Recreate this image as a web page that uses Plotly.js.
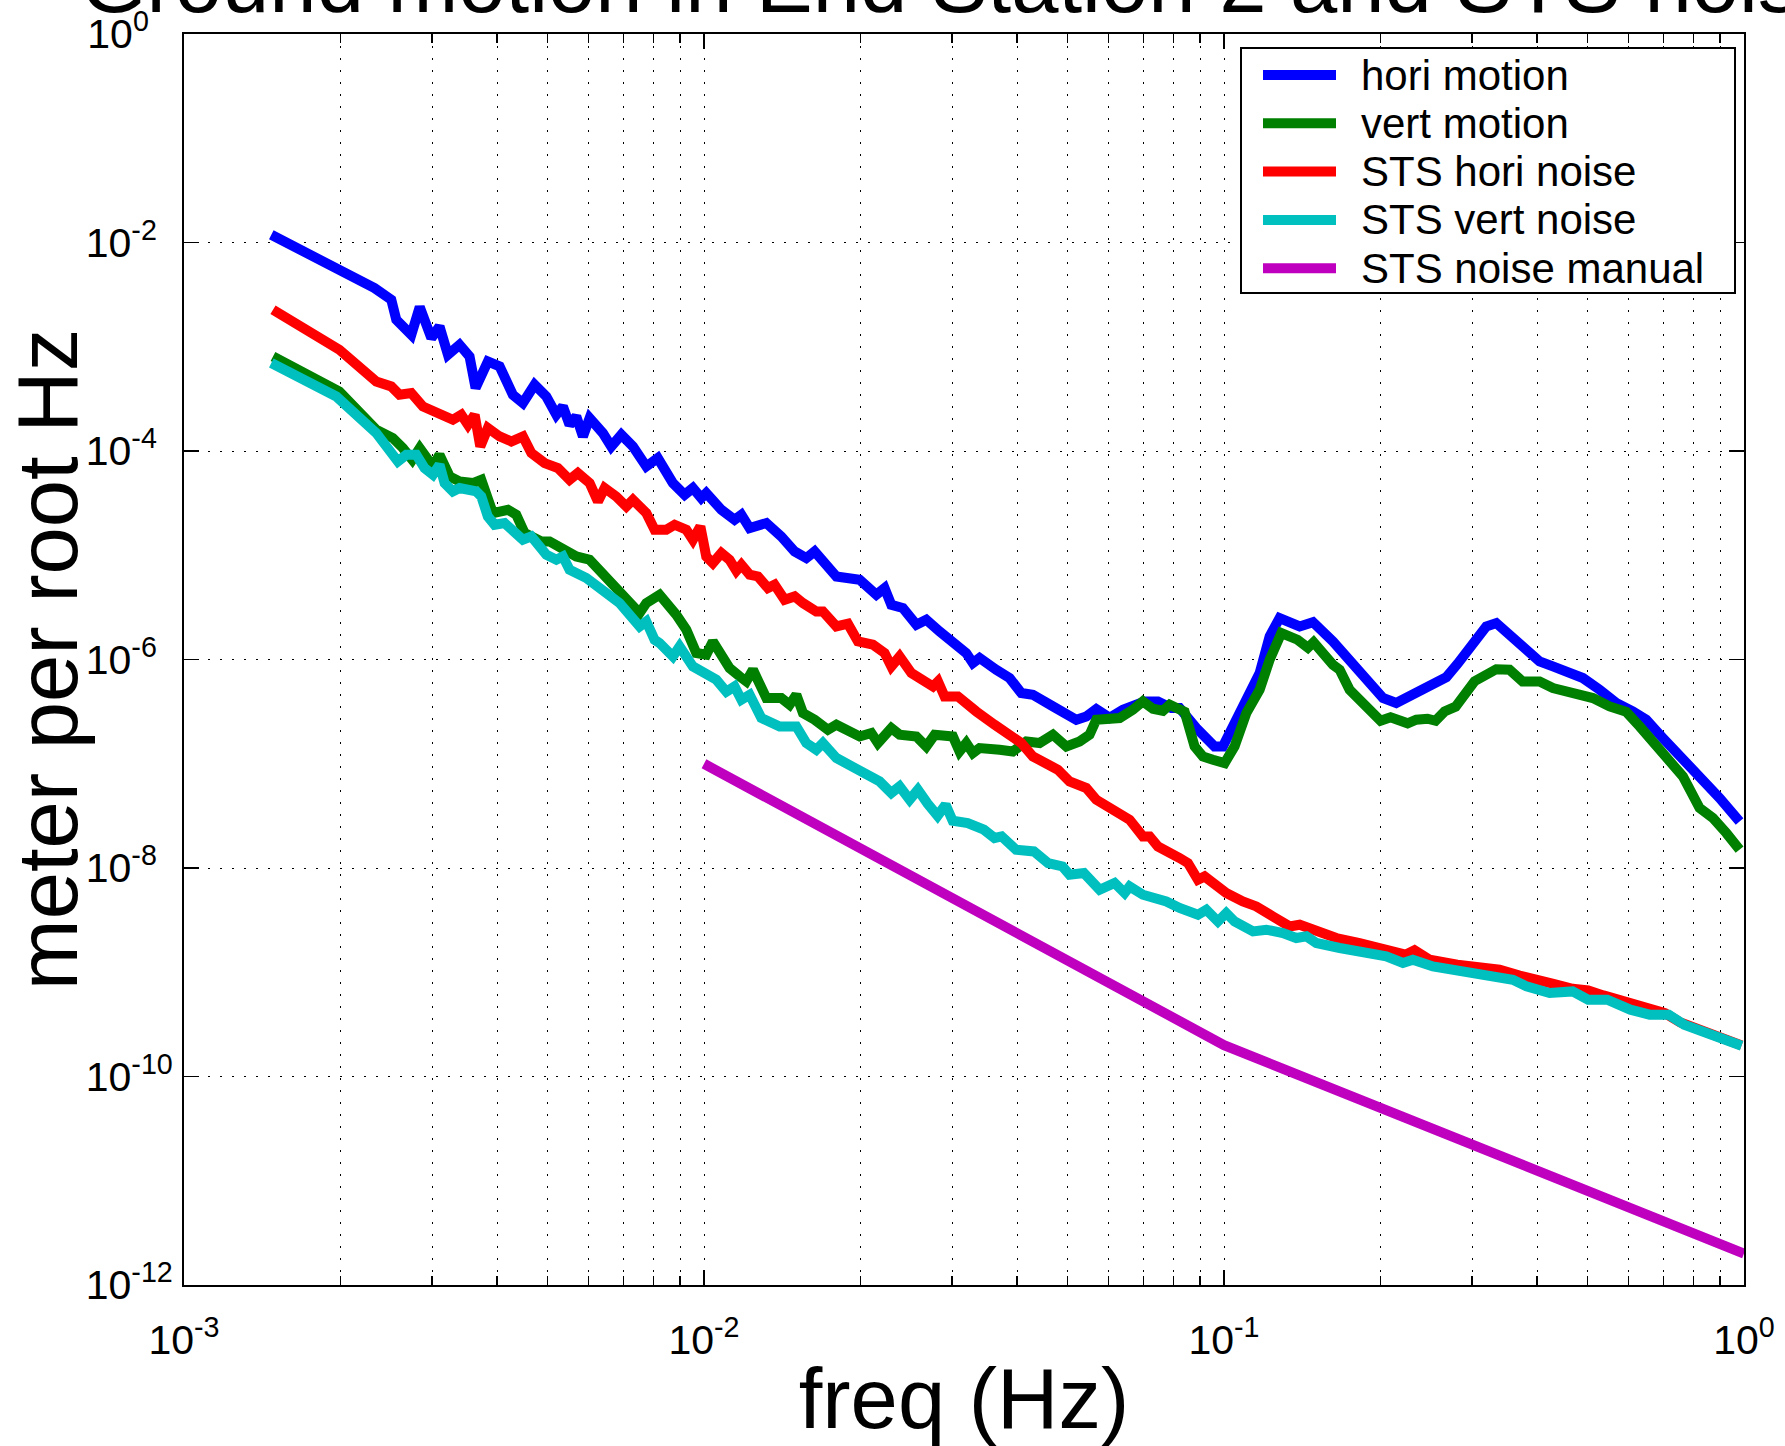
<!DOCTYPE html>
<html>
<head>
<meta charset="utf-8">
<script src="https://cdn.plot.ly/plotly-3.0.1.min.js"></script>
<style>
html,body{margin:0;padding:0;background:#ffffff;}
#chart{width:1785px;height:1446px;}
</style>
</head>
<body>
<div id="chart"></div>
<script>
// ---------- DATA ----------
const horiMotionFreq = [1.472e-3,1.99e-3,2.325e-3,2.504e-3,2.56e-3,2.736e-3,2.84e-3,2.99e-3,3.10e-3,3.218e-3,3.388e-3,3.541e-3,3.637e-3,3.84e-3,4.045e-3,4.29e-3,4.485e-3,4.723e-3,4.975e-3,5.2e-3,5.354e-3,5.514e-3,5.68e-3,5.85e-3,6.026e-3,6.39e-3,6.632e-3,6.934e-3,7.3e-3,7.745e-3,8.15e-3,8.713e-3,9.178e-3,9.52e-3,9.88e-3,1.01e-2,1.08e-2,1.145e-2,1.18e-2,1.224e-2,1.318e-2,1.408e-2,1.494e-2,1.573e-2,1.632e-2,1.797e-2,1.992e-2,2.145e-2,2.225e-2,2.292e-2,2.413e-2,2.561e-2,2.676e-2,2.838e-2,3.011e-2,3.194e-2,3.289e-2,3.388e-2,3.648e-2,3.87e-2,4.076e-2,4.29e-2,4.688e-2,5.2e-2,5.435e-2,5.68e-2,6.026e-2,6.39e-2,7.035e-2,7.463e-2,7.92e-2,8.215e-2,8.845e-2,9.247e-2,9.59e-2,9.95e-2,1.056e-1,1.12e-1,1.171e-1,1.224e-1,1.279e-1,1.398e-1,1.483e-1,1.62e-1,1.719e-1,1.797e-1,1.934e-1,2.022e-1,2.144e-1,2.275e-1,2.449e-1,2.676e-1,2.814e-1,3.011e-1,3.194e-1,3.339e-1,3.541e-1,3.702e-1,4.045e-1,4.29e-1,4.62e-1,4.9e-1,5.276e-1,5.68e-1,6.11e-1,6.486e-1,6.982e-1,7.52e-1,8.214e-1,8.976e-1,9.806e-1];
const horiMotionVal = [1.186e-2,5.475e-3,3.656e-3,2.825e-3,1.815e-3,1.303e-3,2.404e-3,1.211e-3,1.565e-3,8.375e-4,1.045e-3,8.07e-4,4.018e-4,7.23e-4,6.47e-4,3.462e-4,2.884e-4,4.318e-4,3.334e-4,2.227e-4,2.675e-4,1.785e-4,2.145e-4,1.379e-4,2.07e-4,1.486e-4,1.105e-4,1.432e-4,1.105e-4,7.11e-5,8.556e-5,4.926e-5,3.805e-5,4.41e-5,3.537e-5,3.95e-5,2.732e-5,2.19e-5,2.446e-5,1.824e-5,2.037e-5,1.515e-5,1.087e-5,9.4e-6,1.087e-5,6.26e-6,5.82e-6,4.18e-6,4.846e-6,3.351e-6,3.115e-6,2.155e-6,2.407e-6,1.858e-6,1.438e-6,1.153e-6,9.25e-7,1.033e-6,7.976e-7,6.637e-7,4.767e-7,4.592e-7,3.546e-7,2.644e-7,2.844e-7,3.348e-7,2.763e-7,3.296e-7,3.96e-7,3.96e-7,3.422e-7,3.42e-7,2.2e-7,1.828e-7,1.466e-7,1.466e-7,2.644e-7,4.592e-7,7.418e-7,1.664e-6,2.498e-6,2.076e-6,2.278e-6,1.49e-6,1.07e-6,7.976e-7,5.514e-7,4.27e-7,3.823e-7,4.42e-7,5.324e-7,6.76e-7,9.106e-7,1.438e-6,2.076e-6,2.237e-6,1.728e-6,1.513e-6,9.58e-7,8.578e-7,7.418e-7,6.64e-7,5.129e-7,3.823e-7,3.176e-7,2.644e-7,1.765e-7,1.22e-7,7.29e-8,4.69e-8,2.797e-8];

const vertMotionFreq = [1.483e-3,1.99e-3,2.343e-3,2.521e-3,2.636e-3,2.748e-3,2.84e-3,3.011e-3,3.10e-3,3.243e-3,3.388e-3,3.594e-3,3.73e-3,3.926e-3,4.197e-3,4.355e-3,4.519e-3,4.866e-3,5.047e-3,5.354e-3,5.68e-3,6.026e-3,6.487e-3,6.88e-3,7.52e-3,7.745e-3,8.215e-3,8.845e-3,9.247e-3,9.665e-3,1.01e-2,1.04e-2,1.086e-2,1.12e-2,1.171e-2,1.206e-2,1.242e-2,1.318e-2,1.408e-2,1.461e-2,1.505e-2,1.55e-2,1.632e-2,1.731e-2,1.797e-2,1.878e-2,1.992e-2,2.098e-2,2.16e-2,2.292e-2,2.378e-2,2.561e-2,2.676e-2,2.777e-2,3.011e-2,3.10e-2,3.194e-2,3.289e-2,3.388e-2,3.702e-2,3.926e-2,4.167e-2,4.42e-2,4.688e-2,4.975e-2,5.276e-2,5.514e-2,5.68e-2,5.937e-2,6.3e-2,6.68e-2,6.982e-2,7.3e-2,7.63e-2,7.862e-2,8.4e-2,8.779e-2,9.107e-2,9.52e-2,1.003e-1,1.048e-1,1.104e-1,1.171e-1,1.224e-1,1.289e-1,1.385e-1,1.45e-1,1.487e-1,1.62e-1,1.669e-1,1.744e-1,1.878e-1,2.0e-1,2.091e-1,2.255e-1,2.343e-1,2.463e-1,2.552e-1,2.656e-1,2.789e-1,3.033e-1,3.339e-1,3.541e-1,3.751e-1,4.045e-1,4.29e-1,4.553e-1,4.83e-1,5.122e-1,5.514e-1,5.937e-1,6.3e-1,6.88e-1,7.63e-1,8.214e-1,8.713e-1,9.247e-1,9.806e-1];
const vertMotionVal = [8.07e-4,3.724e-4,1.598e-4,1.331e-4,1.067e-4,8.24e-5,1.067e-4,7.11e-5,9.2e-5,5.698e-5,5.103e-5,4.926e-5,5.299e-5,2.54e-5,2.732e-5,2.446e-5,1.633e-5,1.356e-5,1.356e-5,1.129e-5,9.74e-6,9.05e-6,6.26e-6,4.668e-6,2.79e-6,3.479e-6,4.18e-6,2.688e-6,1.929e-6,1.153e-6,1.111e-6,1.49e-6,1.087e-6,8.28e-7,6.88e-7,6.16e-7,7.976e-7,4.27e-7,4.27e-7,3.683e-7,4.592e-7,3.065e-7,2.644e-7,2.12e-7,2.367e-7,2.12e-7,1.828e-7,1.971e-7,1.58e-7,2.2e-7,1.898e-7,1.828e-7,1.466e-7,1.898e-7,1.828e-7,1.313e-7,1.58e-7,1.267e-7,1.415e-7,1.362e-7,1.313e-7,1.637e-7,1.58e-7,1.898e-7,1.466e-7,1.637e-7,1.898e-7,2.644e-7,2.644e-7,2.745e-7,3.296e-7,3.96e-7,3.37e-7,3.225e-7,3.683e-7,3.15e-7,1.466e-7,1.175e-7,1.093e-7,1.016e-7,1.466e-7,3.065e-7,5.129e-7,9.95e-7,1.794e-6,1.547e-6,1.297e-6,1.464e-6,8.906e-7,7.976e-7,5.129e-7,3.683e-7,2.586e-7,2.794e-7,2.443e-7,2.644e-7,2.703e-7,2.586e-7,3.176e-7,3.524e-7,6.188e-7,8.064e-7,7.976e-7,6.16e-7,6.16e-7,5.324e-7,4.938e-7,4.592e-7,4.27e-7,3.546e-7,3.15e-7,2.28e-7,1.362e-7,7.556e-8,3.761e-8,3.016e-8,2.165e-8,1.497e-8];

const stsHoriNoiseFreq = [1.483e-3,1.99e-3,2.343e-3,2.504e-3,2.597e-3,2.736e-3,2.88e-3,3.10e-3,3.289e-3,3.414e-3,3.516e-3,3.622e-3,3.713e-3,3.84e-3,4.045e-3,4.26e-3,4.485e-3,4.655e-3,4.937e-3,5.236e-3,5.514e-3,5.72e-3,6.026e-3,6.252e-3,6.44e-3,6.78e-3,7.09e-3,7.3e-3,7.745e-3,8.035e-3,8.46e-3,8.78e-3,9.247e-3,9.52e-3,9.84e-3,1.01e-2,1.04e-2,1.08e-2,1.12e-2,1.154e-2,1.18e-2,1.224e-2,1.27e-2,1.327e-2,1.367e-2,1.429e-2,1.494e-2,1.55e-2,1.644e-2,1.693e-2,1.797e-2,1.891e-2,1.977e-2,2.113e-2,2.225e-2,2.292e-2,2.378e-2,2.505e-2,2.618e-2,2.756e-2,2.818e-2,2.902e-2,3.078e-2,3.194e-2,3.339e-2,3.62e-2,3.899e-2,4.076e-2,4.29e-2,4.485e-2,4.793e-2,5.047e-2,5.435e-2,5.68e-2,6.026e-2,6.3e-2,6.584e-2,6.982e-2,7.194e-2,7.463e-2,7.862e-2,8.215e-2,8.524e-2,8.909e-2,9.176e-2,9.59e-2,1.01e-1,1.087e-1,1.154e-1,1.242e-1,1.337e-1,1.398e-1,1.505e-1,1.644e-1,1.823e-1,1.934e-1,2.112e-1,2.233e-1,2.325e-1,2.486e-1,2.81e-1,3.165e-1,3.388e-1,3.702e-1,4.045e-1,4.3e-1,4.682e-1,5.015e-1,5.365e-1,5.648e-1,6.148e-1,6.584e-1,7.048e-1,7.546e-1,8.355e-1,9.095e-1,9.894e-1];
const stsHoriNoiseVal = [2.263e-3,9.35e-4,4.645e-4,4.16e-4,3.462e-4,3.595e-4,2.675e-4,2.311e-4,1.994e-4,2.227e-4,1.785e-4,2.227e-4,1.105e-4,1.66e-4,1.379e-4,1.234e-4,1.379e-4,9.56e-5,7.66e-5,6.86e-5,5.299e-5,6.14e-5,4.926e-5,3.28e-5,4.41e-5,3.664e-5,2.938e-5,3.406e-5,2.54e-5,1.757e-5,1.757e-5,1.962e-5,1.757e-5,1.408e-5,1.89e-5,9.74e-6,8.42e-6,1.05e-5,9.05e-6,7.1e-6,8.11e-6,6.5e-6,6.26e-6,4.846e-6,5.214e-6,3.743e-6,4.026e-6,3.479e-6,2.89e-6,2.89e-6,2.076e-6,2.203e-6,1.49e-6,1.386e-6,1.153e-6,8.578e-7,1.07e-6,7.418e-7,6.64e-7,5.514e-7,6.16e-7,4.42e-7,4.42e-7,3.683e-7,3.176e-7,2.367e-7,1.898e-7,1.58e-7,1.175e-7,1.052e-7,8.76e-8,6.77e-8,5.85e-8,4.52e-8,3.761e-8,3.243e-8,2.905e-8,2.009e-8,2.009e-8,1.61e-8,1.443e-8,1.247e-8,1.116e-8,7.72e-9,8.3e-9,6.91e-9,5.754e-9,4.78e-9,4.28e-9,3.432e-9,2.753e-9,2.858e-9,2.465e-9,2.13e-9,1.908e-9,1.769e-9,1.645e-9,1.473e-9,1.627e-9,1.319e-9,1.181e-9,1.123e-9,1.058e-9,9.3e-10,8.6e-10,7.75e-10,6.95e-10,6.7e-10,6.0e-10,5.58e-10,4.8e-10,4.3e-10,4.05e-10,3.3e-10,2.76e-10,2.4e-10,1.99e-10];

const stsVertNoiseFreq = [1.472e-3,1.963e-3,2.343e-3,2.578e-3,2.676e-3,2.797e-3,2.902e-3,3.011e-3,3.10e-3,3.171e-3,3.289e-3,3.388e-3,3.648e-3,3.73e-3,3.84e-3,3.956e-3,4.135e-3,4.29e-3,4.485e-3,4.655e-3,4.793e-3,4.975e-3,5.2e-3,5.354e-3,5.514e-3,5.94e-3,6.487e-3,6.88e-3,7.52e-3,7.745e-3,8.035e-3,8.215e-3,8.713e-3,8.976e-3,9.52e-3,1.01e-2,1.056e-2,1.104e-2,1.145e-2,1.18e-2,1.224e-2,1.289e-2,1.398e-2,1.505e-2,1.573e-2,1.644e-2,1.693e-2,1.797e-2,1.933e-2,2.176e-2,2.292e-2,2.378e-2,2.486e-2,2.578e-2,2.692e-2,2.813e-2,2.915e-2,3.007e-2,3.215e-2,3.454e-2,3.62e-2,3.736e-2,3.981e-2,4.31e-2,4.59e-2,4.891e-2,5.047e-2,5.378e-2,5.765e-2,6.16e-2,6.44e-2,6.584e-2,6.982e-2,7.745e-2,8.215e-2,8.909e-2,9.247e-2,9.734e-2,1.01e-1,1.048e-1,1.137e-1,1.206e-1,1.298e-1,1.377e-1,1.44e-1,1.505e-1,1.669e-1,1.878e-1,2.051e-1,2.208e-1,2.308e-1,2.522e-1,2.838e-1,3.194e-1,3.594e-1,3.816e-1,4.228e-1,4.682e-1,5.015e-1,5.458e-1,6.045e-1,6.584e-1,7.168e-1,7.674e-1,8.355e-1,9.095e-1,9.894e-1];
const stsVertNoiseVal = [6.975e-4,3.334e-4,1.486e-4,7.94e-5,9.2e-5,9.2e-5,6.86e-5,5.917e-5,7.38e-5,4.926e-5,4.093e-5,4.41e-5,4.093e-5,3.664e-5,2.356e-5,1.962e-5,2.037e-5,1.692e-5,1.408e-5,1.515e-5,1.214e-5,1.011e-5,9.05e-6,9.74e-6,7.26e-6,6.045e-6,4.34e-6,3.479e-6,2.076e-6,2.317e-6,1.547e-6,1.438e-6,1.07e-6,1.335e-6,8.578e-7,7.418e-7,6.395e-7,4.906e-7,5.514e-7,4.113e-7,4.592e-7,2.745e-7,2.28e-7,2.28e-7,1.58e-7,1.362e-7,1.58e-7,1.135e-7,9.43e-8,6.77e-8,5.238e-8,6.06e-8,4.52e-8,5.635e-8,4.136e-8,3.172e-8,4.046e-8,2.841e-8,2.701e-8,2.329e-8,1.94e-8,2.009e-8,1.497e-8,1.443e-8,1.116e-8,1.035e-8,8.62e-9,8.95e-9,6.19e-9,7.175e-9,5.754e-9,6.657e-9,5.54e-9,4.78e-9,4.132e-9,3.564e-9,3.98e-9,3.073e-9,3.7e-9,3.073e-9,2.465e-9,2.559e-9,2.379e-9,2.13e-9,2.211e-9,1.908e-9,1.708e-9,1.53e-9,1.419e-9,1.226e-9,1.319e-9,1.138e-9,1.019e-9,9.47e-10,8.482e-10,7.32e-10,6.323e-10,6.55e-10,5.452e-10,5.452e-10,4.372e-10,3.916e-10,3.916e-10,3.14e-10,2.709e-10,2.341e-10,1.974e-10];

const stsManualFreq = [1e-2, 1e-1, 1];
const stsManualVal  = [1e-7, 2e-10, 2e-12];

const seriesNames = ['hori motion','vert motion','STS hori noise','STS vert noise','STS noise manual'];
const seriesColors = ['#0000FF','#008000','#FF0000','#00BFBF','#BF00BF'];

const xTickVals = [1e-3, 1e-2, 1e-1, 1];
const xTickText = ['10<sup>-3</sup>','10<sup>-2</sup>','10<sup>-1</sup>','10<sup>0</sup>'];
const yTickVals = [1, 1e-2, 1e-4, 1e-6, 1e-8, 1e-10, 1e-12];
// trailing figure spaces keep the "10" of every label in the same column, as in the reference
const yTickText = ['10<sup>0\u2007\u2008</sup>','10<sup>-2\u2007</sup>','10<sup>-4\u2007</sup>','10<sup>-6\u2007</sup>','10<sup>-8\u2007</sup>','10<sup>-10</sup>','10<sup>-12</sup>'];

const titleText = 'Ground motion in End Station 2 and STS noise';
const xTitle = 'freq (Hz)';
const yTitle = 'meter per root Hz';

// ---------- FIGURE ----------
const W = 1785, H = 1446;
const M = {l:184, r:41, t:34, b:161};
const FONT = 'Liberation Sans, Arial, Helvetica, sans-serif';

const xs = [horiMotionFreq, vertMotionFreq, stsHoriNoiseFreq, stsVertNoiseFreq, stsManualFreq];
const ys = [horiMotionVal, vertMotionVal, stsHoriNoiseVal, stsVertNoiseVal, stsManualVal];
const LW = 10;

const traces = xs.map((x, i) => ({
  type: 'scatter', mode: 'lines', x: x, y: ys[i], name: seriesNames[i],
  line: {color: seriesColors[i], width: LW}, showlegend: false, hoverinfo: 'skip'
}));

// minor tick positions (2..9 in each decade)
const xMinor = [];
[1e-3, 1e-2, 1e-1].forEach(d => { for (let k = 2; k <= 9; k++) xMinor.push(k * d); });

// legend drawn with paper-referenced shapes/annotations (pixel layout)
const pw = W - M.l - M.r, ph = H - M.t - M.b;
const px2x = X => (X - M.l) / pw;
const px2y = Y => (H - M.b - Y) / ph;
const legBox = {x0: 1241, x1: 1735, y0: 48, y1: 293};
const legRow0 = 75, legRowStep = 48.3, legLineX0 = 1263, legLineX1 = 1336, legTextX = 1359;

const shapes = [{
  type: 'rect', xref: 'paper', yref: 'paper',
  x0: px2x(legBox.x0), x1: px2x(legBox.x1), y0: px2y(legBox.y1), y1: px2y(legBox.y0),
  line: {color: '#000', width: 2}, fillcolor: '#fff', layer: 'above'
}];
const annotations = [];
seriesNames.forEach((n, i) => {
  const yy = px2y(legRow0 + i * legRowStep);
  shapes.push({type: 'line', xref: 'paper', yref: 'paper',
    x0: px2x(legLineX0), x1: px2x(legLineX1), y0: yy, y1: yy,
    line: {color: seriesColors[i], width: LW}, layer: 'above'});
  annotations.push({xref: 'paper', yref: 'paper', x: px2x(legTextX), y: yy,
    xanchor: 'left', yanchor: 'middle', showarrow: false, text: n,
    font: {family: FONT, size: 42, color: '#000'}});
});

const gridDash = '2px,10px';
const layout = {
  width: W, height: H,
  margin: M,
  paper_bgcolor: '#fff', plot_bgcolor: '#fff',
  font: {family: FONT, color: '#000'},
  showlegend: false,
  title: {text: titleText, font: {family: FONT, size: 85, color: '#000'},
          xref: 'paper', x: 0.5, xanchor: 'center',
          yref: 'container', y: 1 - 12 / H, yanchor: 'bottom'},
  xaxis: {
    type: 'log', range: [-3, 0], autorange: false,
    tickmode: 'array', tickvals: xTickVals, ticktext: xTickText,
    tickfont: {family: FONT, size: 41, color: '#000'},
    ticks: 'inside', ticklen: 15, tickwidth: 1.5, tickcolor: '#000',
    ticklabelstandoff: 18,
    showline: true, linecolor: '#000', linewidth: 2, mirror: 'ticks',
    showgrid: true, gridcolor: '#000', gridwidth: 1, griddash: gridDash,
    zeroline: false,
    minor: {tickmode: 'array', tickvals: xMinor, ticks: 'inside', ticklen: 9,
            tickwidth: 1.5, tickcolor: '#000', showgrid: true,
            gridcolor: '#000', gridwidth: 1, griddash: gridDash},
    title: {text: xTitle, font: {family: FONT, size: 85, color: '#000'}, standoff: 10}
  },
  yaxis: {
    type: 'log', range: [-12, 0], autorange: false,
    tickmode: 'array', tickvals: yTickVals, ticktext: yTickText,
    tickfont: {family: FONT, size: 41, color: '#000'},
    ticks: 'inside', ticklen: 15, tickwidth: 1.5, tickcolor: '#000',
    ticklabelstandoff: 1,
    showline: true, linecolor: '#000', linewidth: 2, mirror: 'ticks',
    showgrid: true, gridcolor: '#000', gridwidth: 1, griddash: gridDash,
    zeroline: false,
    title: {text: yTitle, font: {family: FONT, size: 85, color: '#000'}, standoff: 4}
  },
  shapes: shapes,
  annotations: annotations
};

Plotly.newPlot('chart', traces, layout, {displayModeBar: false, staticPlot: true});
</script>
</body>
</html>
